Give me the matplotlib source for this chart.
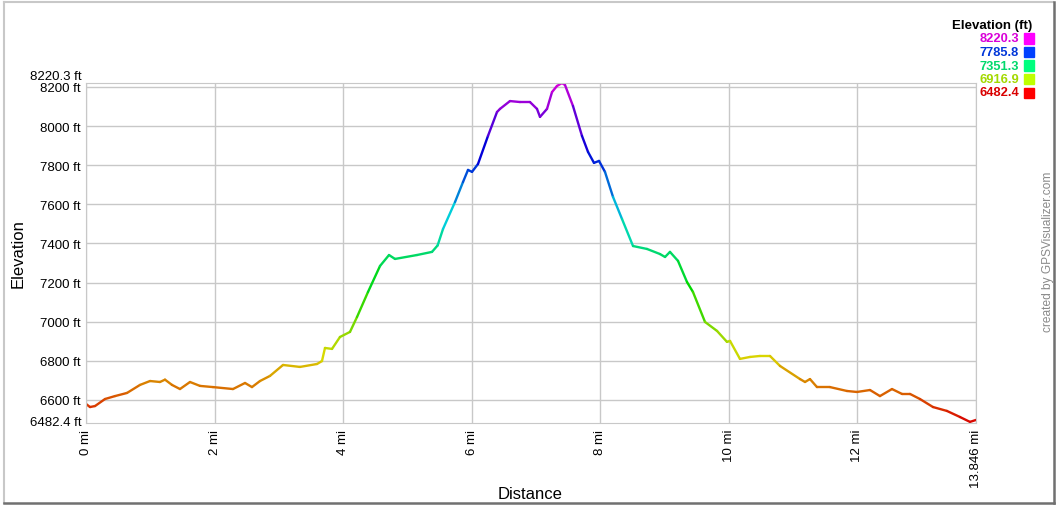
import colorsys
import numpy as np
import matplotlib
matplotlib.use("Agg")
import matplotlib.pyplot as plt
from matplotlib.collections import LineCollection
from matplotlib.lines import Line2D
from matplotlib.patches import Rectangle

plt.rcParams['font.family'] = ['Liberation Sans', 'DejaVu Sans']

# distance (mi) and elevation (ft)
dist = [0.0, 0.062, 0.14, 0.296, 0.451, 0.638, 0.84, 0.996, 1.151, 1.229,
        1.338, 1.462, 1.618, 1.773, 1.976, 2.287, 2.474, 2.582, 2.707, 2.862,
        3.065, 3.329, 3.594, 3.671, 3.718, 3.827, 3.951, 4.107, 4.216, 4.387,
        4.574, 4.714, 4.807, 5.149, 5.383, 5.47, 5.554, 5.741, 5.865, 5.943, 6.005,
        6.098, 6.254, 6.394, 6.441, 6.596, 6.752, 6.907, 7.016, 7.063, 7.172,
        7.25, 7.327, 7.405, 7.452, 7.576, 7.716, 7.81, 7.903, 7.981, 8.074,
        8.199, 8.339, 8.51, 8.728, 8.93, 9.008, 9.085, 9.21, 9.35, 9.443,
        9.63, 9.817, 9.972, 10.019, 10.174, 10.33, 10.485, 10.641, 10.797, 11.108,
        11.186, 11.263, 11.372, 11.574, 11.839, 11.994, 12.197, 12.352, 12.539, 12.694,
        12.819, 12.974, 13.177, 13.394, 13.597, 13.752, 13.846]
elev = [6580, 6564, 6569, 6605, 6620, 6636, 6677, 6697, 6692, 6704,
        6677, 6656, 6692, 6672, 6666, 6656, 6687, 6666, 6697, 6723,
        6779, 6769, 6784, 6799, 6866, 6861, 6922, 6948, 7024, 7152,
        7285, 7341, 7321, 7341, 7357, 7390, 7474, 7612, 7714, 7776, 7766,
        7806, 7950, 8072, 8088, 8128, 8123, 8123, 8088, 8047, 8088,
        8174, 8205, 8220.3, 8210, 8103, 7950, 7868, 7812, 7822, 7766,
        7638, 7525, 7387, 7372, 7346, 7331, 7357, 7311, 7203, 7152,
        6999, 6953, 6897, 6902, 6810, 6820, 6825, 6825, 6774, 6707,
        6692, 6707, 6666, 6666, 6646, 6641, 6651, 6620, 6656, 6631,
        6631, 6605, 6564, 6544, 6513, 6488, 6498]

legend_vals = [8220.3, 7785.8, 7351.3, 6916.9, 6482.4]
x_ticks = [0, 2, 4, 6, 8, 10, 12, 13.846]
x_labels = ["0 mi", "2 mi", "4 mi", "6 mi", "8 mi", "10 mi", "12 mi", "13.846 mi"]
y_ticks = [6600, 6800, 7000, 7200, 7400, 7600, 7800, 8000, 8200]

emin, emax = 6482.4, 8220.3


def elev_color(e, v=0.85):
    f = (e - emin) / (emax - emin)
    return colorsys.hsv_to_rgb(f * 300 / 360, 1.0, v)


fig = plt.figure(figsize=(10.6, 5.1), dpi=100)
ax = fig.add_axes([86 / 1060, 1 - 424 / 510, 890 / 1060, 340 / 510])

x = np.array(dist)
y = np.array(elev)
pts = np.column_stack([x, y]).reshape(-1, 1, 2)
segs = np.concatenate([pts[:-1], pts[1:]], axis=1)
cols = [elev_color((a + b) / 2) for a, b in zip(y[:-1], y[1:])]
lc = LineCollection(segs, colors=cols, linewidths=1.7, capstyle='round')
ax.add_collection(lc)

ax.set_xlim(0, 13.846)
ax.set_ylim(emin, emax)
ax.set_xticks(x_ticks)
ax.set_xticklabels(x_labels, rotation=90, fontsize=9.5)
ax.set_yticks(y_ticks)
ax.set_yticklabels([f"{t} ft" for t in y_ticks], fontsize=9.5)
ax.tick_params(length=0, pad=4)
ax.grid(True, color='#c8c8c8', linewidth=1)
ax.set_axisbelow(True)
for s in ax.spines.values():
    s.set_color('#c8c8c8')
ax.text(-0.005, emax + 5, "8220.3 ft", transform=ax.get_yaxis_transform(),
        ha='right', va='bottom', fontsize=9.5)
ax.text(-0.005, emin + 5, "6482.4 ft", transform=ax.get_yaxis_transform(),
        ha='right', va='center', fontsize=9.5)

fig.text(530 / 1060, 1 - 495 / 510, "Distance", ha='center', va='center', fontsize=12)
fig.text(18 / 1060, 1 - 254 / 510, "Elevation", ha='center', va='center',
         fontsize=12, rotation=90)

# legend
fig.text(1032 / 1060, 1 - 26 / 510, "Elevation (ft)", ha='right', va='center',
         fontsize=9.5, fontweight='bold')
for i, v in enumerate(legend_vals):
    yy = 1 - (39.5 + i * 13.5) / 510
    fig.text(1019 / 1060, yy, f"{v}", ha='right', va='center', fontsize=9.3,
             fontweight='bold', color=elev_color(v, 0.85))
    fig.add_artist(Rectangle((1024 / 1060, yy - 5 / 510), 10 / 1060, 10 / 510,
                             transform=fig.transFigure, color=elev_color(v, 1.0)))

fig.text(1048 / 1060, 1 - 252 / 510, "created by GPSVisualizer.com", rotation=90,
         ha='center', va='center', fontsize=8.6, color='#8a8a8a')

# figure frame
fig.add_artist(Line2D([4 / 1060, 1053 / 1060], [1 - 3 / 510, 1 - 3 / 510],
                      transform=fig.transFigure, color='#c8c8c8', lw=1.5))
fig.add_artist(Line2D([4 / 1060, 4 / 1060], [1 - 3 / 510, 1 - 504 / 510],
                      transform=fig.transFigure, color='#c8c8c8', lw=1.5))
fig.add_artist(Line2D([4 / 1060, 1054 / 1060], [1 - 504 / 510, 1 - 504 / 510],
                      transform=fig.transFigure, color='#707070', lw=1.8))
fig.add_artist(Line2D([1054 / 1060, 1054 / 1060], [1 - 3 / 510, 1 - 504 / 510],
                      transform=fig.transFigure, color='#707070', lw=1.8))

fig.savefig("out.png", dpi=100)
